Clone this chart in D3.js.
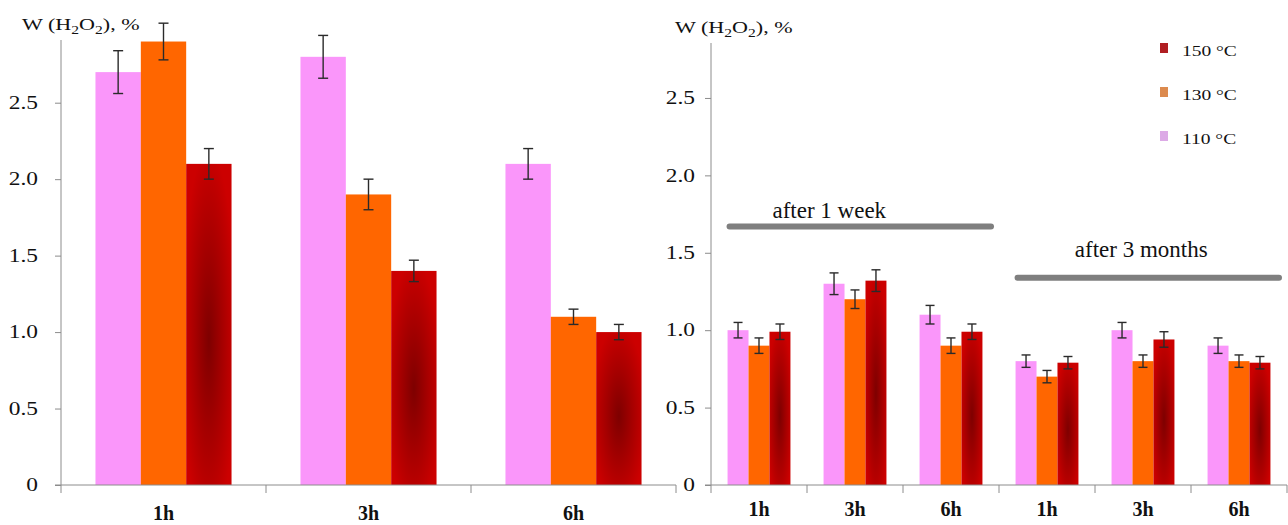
<!DOCTYPE html>
<html><head><meta charset="utf-8">
<script src="https://cdn.jsdelivr.net/npm/d3@7"></script>
<style>body{margin:0;background:#fff}svg{display:block}</style>
</head><body>
<svg id="chart" width="1288" height="525"></svg>
<script>
// ---------- data ----------
const seriesNames = ["110 °C", "130 °C", "150 °C"];
const leftCategories = ["1h", "3h", "6h"];
const left110 = [2.70, 2.80, 2.10];
const left130 = [2.90, 1.90, 1.10];
const left150 = [2.10, 1.40, 1.00];
const leftErr110 = [0.14, 0.14, 0.10];
const leftErr130 = [0.12, 0.10, 0.05];
const leftErr150 = [0.10, 0.07, 0.05];

const rightCategories = ["1h", "3h", "6h", "1h", "3h", "6h"];
const right110 = [1.00, 1.30, 1.10, 0.80, 1.00, 0.90];
const right130 = [0.90, 1.20, 0.90, 0.70, 0.80, 0.80];
const right150 = [0.99, 1.32, 0.99, 0.79, 0.94, 0.79];
const rightErr110 = [0.05, 0.07, 0.06, 0.04, 0.05, 0.05];
const rightErr130 = [0.05, 0.06, 0.05, 0.04, 0.04, 0.04];
const rightErr150 = [0.05, 0.07, 0.05, 0.04, 0.05, 0.04];

const yTicks = [0, 0.5, 1.0, 1.5, 2.0, 2.5];
const yTickLabels = ["0", "0.5", "1.0", "1.5", "2.0", "2.5"];

const periodLabels = ["after 1 week", "after 3 months"];
const periodFrom = [0, 3];
const periodTo = [2, 5];
const periodLineLevel = [1.669, 1.339];
const periodTextLevel = [1.725, 1.473];

// ---------- styles ----------
const colors = ["#fa96fa", "#ff6600", "url(#redGrad)"];
const legendColors = ["#dcaae6", "#dc8a4e", "#b01e22"];
const FONT = "'Liberation Serif'";
const axisColor = "#8c8c8c";
const SX = 1.3; // horizontal stretch of the original figure's text

const svg = d3.select("#chart");
const defs = svg.append("defs");
const rg = defs.append("radialGradient").attr("id", "redGrad")
  .attr("cx", "0.5").attr("cy", "0.55").attr("r", "0.6");
rg.append("stop").attr("offset", "0%").attr("stop-color", "#7e0000");
rg.append("stop").attr("offset", "50%").attr("stop-color", "#a60000");
rg.append("stop").attr("offset", "100%").attr("stop-color", "#cc0000");

function stretchAbout(ax) {
  return `translate(${ax},0) scale(${SX},1) translate(${-ax},0)`;
}

function drawPanel(opts) {
  const { x0, x1, yTop, yBottom, yMax, cats, vals, errs, capW, titleX, titleY, labelX, catDy } = opts;
  const g = svg.append("g");
  const x = d3.scaleBand().domain(d3.range(cats.length)).range([x0, x1]).paddingInner(0).paddingOuter(0);
  const y = d3.scaleLinear().domain([0, yMax]).range([yBottom, yTop]);
  const inner = d3.scaleBand().domain([0, 1, 2]).range([0, x.bandwidth()]).paddingOuter(opts.outerPad).paddingInner(0);

  vals.forEach((arr, s) => {
    g.selectAll(null).data(arr).enter().append("rect")
      .attr("x", (d, i) => x(i) + inner(s))
      .attr("y", d => y(d))
      .attr("width", inner.bandwidth())
      .attr("height", d => y(0) - y(d))
      .attr("fill", colors[s]);
  });
  vals.forEach((arr, s) => {
    arr.forEach((d, i) => {
      const cx = x(i) + inner(s) + inner.bandwidth() / 2;
      const e = errs[s][i];
      const eg = g.append("g").attr("stroke", "#2a2a2a").attr("stroke-width", 1.4);
      eg.append("line").attr("x1", cx).attr("x2", cx).attr("y1", y(d + e)).attr("y2", y(d - e));
      eg.append("line").attr("x1", cx - capW / 2).attr("x2", cx + capW / 2).attr("y1", y(d + e)).attr("y2", y(d + e));
      eg.append("line").attr("x1", cx - capW / 2).attr("x2", cx + capW / 2).attr("y1", y(d - e)).attr("y2", y(d - e));
    });
  });

  const yAxis = d3.axisLeft(y).tickValues(yTicks).tickFormat((d, i) => yTickLabels[i]).tickSize(6).tickSizeOuter(0);
  const ya = g.append("g").attr("transform", `translate(${x0},0)`).call(yAxis);
  ya.attr("font-family", null);
  ya.select(".domain").attr("stroke", axisColor).attr("d", `M0,${yTop}V${yBottom}`);
  ya.selectAll(".tick line").attr("stroke", axisColor);
  ya.selectAll(".tick text").style("font-family", FONT).attr("font-size", 18).attr("fill", "#111")
    .attr("x", labelX).attr("transform", stretchAbout(labelX));

  g.append("line").attr("x1", x0 - 6).attr("x2", x1).attr("y1", yBottom).attr("y2", yBottom).attr("stroke", axisColor).attr("stroke-width", 1);
  d3.range(cats.length + 1).forEach(i => {
    const xx = i < cats.length ? x(i) : x1;
    g.append("line").attr("x1", xx).attr("x2", xx).attr("y1", yBottom).attr("y2", yBottom + 8).attr("stroke", axisColor);
  });
  g.selectAll(null).data(cats).enter().append("text")
    .attr("x", (d, i) => x(i) + x.bandwidth() / 2)
    .attr("y", yBottom + catDy)
    .attr("text-anchor", "middle")
    .style("font-family", FONT)
    .attr("font-weight", "bold").attr("font-size", 20).attr("fill", "#111")
    .text(d => d);

  const t = g.append("text").attr("x", titleX).attr("y", titleY)
    .attr("transform", stretchAbout(titleX))
    .style("font-family", FONT).attr("font-size", 17).attr("fill", "#111");
  t.append("tspan").text("W (H");
  t.append("tspan").attr("font-size", 12).attr("dy", 4).text("2");
  t.append("tspan").attr("dy", -4).text("O");
  t.append("tspan").attr("font-size", 12).attr("dy", 4).text("2");
  t.append("tspan").attr("dy", -4).text("), %");
  return { x, y, inner, g };
}

drawPanel({
  x0: 61, x1: 676, yTop: 40, yBottom: 485, yMax: 2.91,
  cats: leftCategories,
  vals: [left110, left130, left150],
  errs: [leftErr110, leftErr130, leftErr150],
  capW: 10, outerPad: 0.76, titleX: 22, titleY: 30, labelX: -23, catDy: 35
});

const R = drawPanel({
  x0: 711, x1: 1287, yTop: 43, yBottom: 485, yMax: 2.855,
  cats: rightCategories,
  vals: [right110, right130, right150],
  errs: [rightErr110, rightErr130, rightErr150],
  capW: 9, outerPad: 0.79, titleX: 675, titleY: 33, labelX: -16, catDy: 31
});

const textShift = [-31, -7];
periodLabels.forEach((lab, k) => {
  const xs = R.x(periodFrom[k]) + R.inner(0) + 2;
  const xe = R.x(periodTo[k]) + R.x.bandwidth() - 8;
  R.g.append("line").attr("x1", xs).attr("x2", xe)
    .attr("y1", R.y(periodLineLevel[k])).attr("y2", R.y(periodLineLevel[k]))
    .attr("stroke", "#7f7f7f").attr("stroke-width", 6).attr("stroke-linecap", "round");
  R.g.append("text").attr("x", (xs + xe) / 2 + textShift[k]).attr("y", R.y(periodTextLevel[k]))
    .attr("text-anchor", "middle").style("font-family", FONT).attr("font-size", 23).attr("fill", "#111").text(lab);
});

const legendOrder = [2, 1, 0];
legendOrder.forEach((s, k) => {
  const ly = 48 + k * 44;
  svg.append("rect").attr("x", 1160).attr("y", ly - 5).attr("width", 8).attr("height", 10).attr("fill", legendColors[s]);
  svg.append("text").attr("x", 1182).attr("y", ly + 8).attr("transform", stretchAbout(1182))
    .style("font-family", FONT).attr("font-size", 15).attr("fill", "#111").text(seriesNames[s]);
});
</script>
</body></html>
